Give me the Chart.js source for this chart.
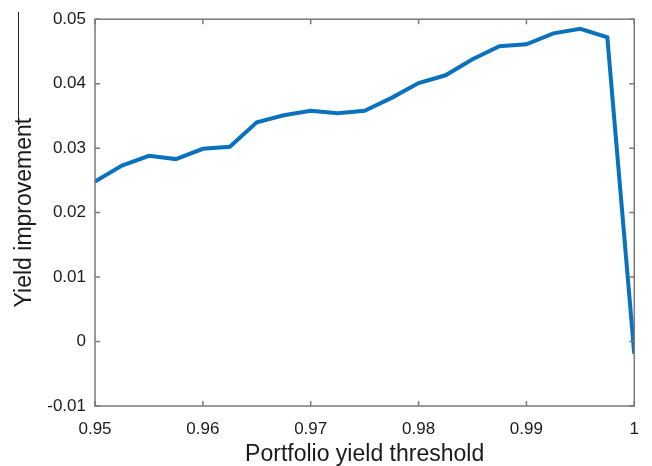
<!DOCTYPE html>
<html>
<head>
<meta charset="utf-8">
<script src="https://cdn.jsdelivr.net/npm/chart.js@4/dist/chart.umd.min.js"></script>
<style>
  html, body { margin: 0; padding: 0; background: #fff; }
  #wrap { width: 652px; height: 466px; }
</style>
</head>
<body>
<div id="wrap"><canvas id="chart" width="652" height="466"></canvas></div>
<script>
// data
var thresholds = [0.95, 0.9525, 0.955, 0.9575, 0.96, 0.9625, 0.965, 0.9675, 0.97, 0.9725, 0.975,
                  0.9775, 0.98, 0.9825, 0.985, 0.9875, 0.99, 0.9925, 0.995, 0.9975, 1.0];
var improvement = [0.0248, 0.0273, 0.0288, 0.0283, 0.0299, 0.0302, 0.0340, 0.0351, 0.0358, 0.0354, 0.0358,
                   0.0378, 0.0401, 0.0413, 0.0438, 0.0458, 0.0461, 0.0478, 0.0485, 0.0472, -0.0019];
var xTicks = [0.95, 0.96, 0.97, 0.98, 0.99, 1];
var yTicks = [-0.01, 0, 0.01, 0.02, 0.03, 0.04, 0.05];

var font = "'Liberation Sans', Arial, sans-serif";

function fmt(v) {
    return String(Number(v.toFixed(4)));
}

// matlab style box with inward ticks
var boxPlugin = {
    id: 'box',
    afterDatasetsDraw: function(chart) {
        var ctx = chart.ctx;
        var a = chart.chartArea;
        var xs = chart.scales.x, ys = chart.scales.y;
        ctx.save();
        ctx.strokeStyle = '#7a7a7a';
        ctx.lineWidth = 1.5;
        ctx.strokeRect(a.left, a.top, a.right - a.left, a.bottom - a.top);
        ctx.beginPath();
        xTicks.forEach(function(t) {
            var px = xs.getPixelForValue(t);
            ctx.moveTo(px, a.bottom); ctx.lineTo(px, a.bottom - 5);
            ctx.moveTo(px, a.top); ctx.lineTo(px, a.top + 5);
        });
        yTicks.forEach(function(t) {
            var py = ys.getPixelForValue(t);
            ctx.moveTo(a.left, py); ctx.lineTo(a.left + 5, py);
            ctx.moveTo(a.right, py); ctx.lineTo(a.right - 5, py);
        });
        ctx.stroke();
        // stray line left of the y title in the original
        ctx.strokeStyle = '#222';
        ctx.lineWidth = 1;
        ctx.beginPath();
        ctx.moveTo(18.5, 12); ctx.lineTo(18.5, 125);
        ctx.stroke();
        ctx.restore();
    }
};

var ctx = document.getElementById('chart');
var chart = new Chart(ctx, {
    type: 'line',
    data: {
        datasets: [{
            data: thresholds.map(function(x, i) { return { x: x, y: improvement[i] }; }),
            borderColor: '#0a72bd',
            borderWidth: 4,
            pointRadius: 0,
            tension: 0,
            fill: false
        }]
    },
    options: {
        responsive: false,
        animation: false,
        events: [],
        layout: { padding: { top: 17, right: 16, left: 0, bottom: 0 } },
        plugins: {
            legend: { display: false },
            tooltip: { enabled: false }
        },
        scales: {
            x: {
                type: 'linear',
                min: 0.95,
                max: 1,
                afterBuildTicks: function(s) { s.ticks = xTicks.map(function(v) { return { value: v }; }); },
                afterFit: function(s) { s.height = 60; },
                grid: { display: false, drawTicks: false },
                border: { display: false },
                ticks: {
                    padding: 13,
                    color: '#1a1a1a',
                    font: { family: font, size: 17 },
                    maxRotation: 0,
                    callback: function(v) { return fmt(v); }
                },
                title: {
                    display: true,
                    text: 'Portfolio yield threshold',
                    color: '#1a1a1a',
                    font: { family: font, size: 23, lineHeight: 1 },
                    padding: { top: 0, bottom: 0 }
                }
            },
            y: {
                min: -0.01,
                max: 0.05,
                afterBuildTicks: function(s) { s.ticks = yTicks.map(function(v) { return { value: v }; }); },
                afterFit: function(s) { s.width = 95; },
                grid: { display: false, drawTicks: false },
                border: { display: false },
                ticks: {
                    padding: 9,
                    color: '#1a1a1a',
                    font: { family: font, size: 17 },
                    callback: function(v) { return fmt(v); }
                },
                title: {
                    display: true,
                    text: 'Yield improvement',
                    color: '#1a1a1a',
                    font: { family: font, size: 23, lineHeight: 1 },
                    padding: { top: 13, bottom: 0 }
                }
            }
        }
    },
    plugins: [boxPlugin]
});
</script>
</body>
</html>
